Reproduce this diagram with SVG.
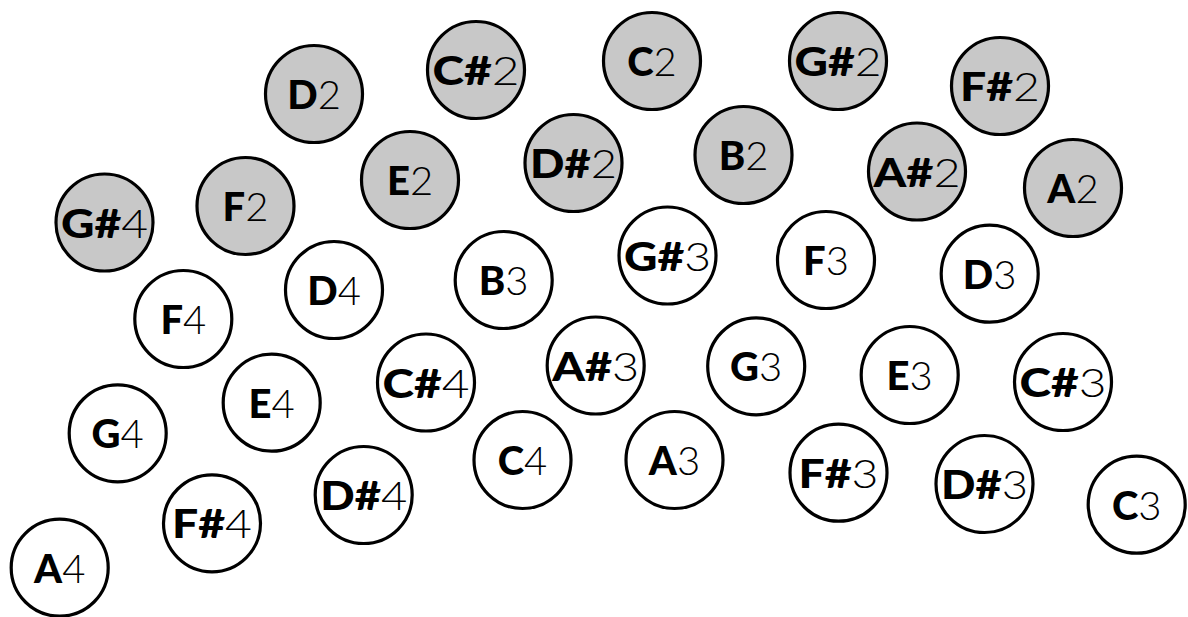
<svg xmlns="http://www.w3.org/2000/svg" width="1188" height="617" viewBox="0 0 1188 617">
<style>
.k circle{stroke:#000;stroke-width:3.2;fill:#fff}
.k.g circle{fill:#c8c8c8}
.k text{font-family:Lato,"Liberation Sans",sans-serif;font-size:40px;text-anchor:middle;fill:#000}
.n{font-weight:900}
.o{font-weight:300}
</style>
<rect width="1188" height="617" fill="#fff"/>
<g id="connectors"></g>
<g id="D2" class="k g"><circle cx="314" cy="94" r="48.5"/><text x="314" y="109"><tspan class="n">D</tspan><tspan class="o">2</tspan></text></g>
<g id="Cs2" class="k g"><circle cx="476" cy="70" r="48.5"/><text x="476" y="85" textLength="87" lengthAdjust="spacingAndGlyphs"><tspan class="n">C#</tspan><tspan class="o">2</tspan></text></g>
<g id="C2" class="k g"><circle cx="652" cy="61" r="48.5"/><text x="652" y="76"><tspan class="n">C</tspan><tspan class="o">2</tspan></text></g>
<g id="Gs2" class="k g"><circle cx="838" cy="61" r="48.5"/><text x="838" y="76" textLength="87" lengthAdjust="spacingAndGlyphs"><tspan class="n">G#</tspan><tspan class="o">2</tspan></text></g>
<g id="Fs2" class="k g"><circle cx="1000" cy="86" r="48.5"/><text x="1000" y="101" textLength="80" lengthAdjust="spacingAndGlyphs"><tspan class="n">F#</tspan><tspan class="o">2</tspan></text></g>
<g id="Gs4" class="k g"><circle cx="104.5" cy="222.5" r="48.5"/><text x="104.5" y="237.5" textLength="87" lengthAdjust="spacingAndGlyphs"><tspan class="n">G#</tspan><tspan class="o">4</tspan></text></g>
<g id="F2" class="k g"><circle cx="245.5" cy="206" r="48.5"/><text x="245.5" y="221"><tspan class="n">F</tspan><tspan class="o">2</tspan></text></g>
<g id="E2" class="k g"><circle cx="410" cy="180" r="48.5"/><text x="410" y="195"><tspan class="n">E</tspan><tspan class="o">2</tspan></text></g>
<g id="Ds2" class="k g"><circle cx="573.5" cy="163" r="48.5"/><text x="573.5" y="178" textLength="87" lengthAdjust="spacingAndGlyphs"><tspan class="n">D#</tspan><tspan class="o">2</tspan></text></g>
<g id="B2" class="k g"><circle cx="743.5" cy="155" r="48.5"/><text x="743.5" y="170"><tspan class="n">B</tspan><tspan class="o">2</tspan></text></g>
<g id="As2" class="k g"><circle cx="917" cy="171.5" r="48.5"/><text x="917" y="186.5" textLength="87" lengthAdjust="spacingAndGlyphs"><tspan class="n">A#</tspan><tspan class="o">2</tspan></text></g>
<g id="A2" class="k g"><circle cx="1073" cy="188" r="48.5"/><text x="1073" y="203"><tspan class="n">A</tspan><tspan class="o">2</tspan></text></g>
<g id="F4" class="k"><circle cx="183.3" cy="319" r="48.5"/><text x="183.3" y="334"><tspan class="n">F</tspan><tspan class="o">4</tspan></text></g>
<g id="D4" class="k"><circle cx="334" cy="290" r="48.5"/><text x="334" y="305"><tspan class="n">D</tspan><tspan class="o">4</tspan></text></g>
<g id="B3" class="k"><circle cx="503.7" cy="280" r="48.5"/><text x="503.7" y="295"><tspan class="n">B</tspan><tspan class="o">3</tspan></text></g>
<g id="Gs3" class="k"><circle cx="667.5" cy="255.5" r="48.5"/><text x="667.5" y="270.5" textLength="87" lengthAdjust="spacingAndGlyphs"><tspan class="n">G#</tspan><tspan class="o">3</tspan></text></g>
<g id="F3" class="k"><circle cx="826" cy="260" r="48.5"/><text x="826" y="275"><tspan class="n">F</tspan><tspan class="o">3</tspan></text></g>
<g id="D3" class="k"><circle cx="989.7" cy="273.7" r="48.5"/><text x="989.7" y="288.7"><tspan class="n">D</tspan><tspan class="o">3</tspan></text></g>
<g id="Cs4" class="k"><circle cx="426" cy="382.5" r="48.5"/><text x="426" y="397.5" textLength="87" lengthAdjust="spacingAndGlyphs"><tspan class="n">C#</tspan><tspan class="o">4</tspan></text></g>
<g id="As3" class="k"><circle cx="595.7" cy="365.5" r="48.5"/><text x="595.7" y="380.5" textLength="87" lengthAdjust="spacingAndGlyphs"><tspan class="n">A#</tspan><tspan class="o">3</tspan></text></g>
<g id="G3" class="k"><circle cx="756.2" cy="366.3" r="48.5"/><text x="756.2" y="381.3"><tspan class="n">G</tspan><tspan class="o">3</tspan></text></g>
<g id="E3" class="k"><circle cx="909.7" cy="375" r="48.5"/><text x="909.7" y="390"><tspan class="n">E</tspan><tspan class="o">3</tspan></text></g>
<g id="Cs3" class="k"><circle cx="1063" cy="382" r="48.5"/><text x="1063" y="397" textLength="87" lengthAdjust="spacingAndGlyphs"><tspan class="n">C#</tspan><tspan class="o">3</tspan></text></g>
<g id="G4" class="k"><circle cx="117.7" cy="433.3" r="48.5"/><text x="117.7" y="448.3"><tspan class="n">G</tspan><tspan class="o">4</tspan></text></g>
<g id="E4" class="k"><circle cx="271.7" cy="402.7" r="48.5"/><text x="271.7" y="417.7"><tspan class="n">E</tspan><tspan class="o">4</tspan></text></g>
<g id="C4" class="k"><circle cx="522.5" cy="460" r="48.5"/><text x="522.5" y="475"><tspan class="n">C</tspan><tspan class="o">4</tspan></text></g>
<g id="A3" class="k"><circle cx="674.5" cy="460" r="48.5"/><text x="674.5" y="475"><tspan class="n">A</tspan><tspan class="o">3</tspan></text></g>
<g id="Fs3" class="k"><circle cx="838.5" cy="472.7" r="48.5"/><text x="838.5" y="487.7" textLength="80" lengthAdjust="spacingAndGlyphs"><tspan class="n">F#</tspan><tspan class="o">3</tspan></text></g>
<g id="Ds3" class="k"><circle cx="984.5" cy="484" r="48.5"/><text x="984.5" y="499" textLength="87" lengthAdjust="spacingAndGlyphs"><tspan class="n">D#</tspan><tspan class="o">3</tspan></text></g>
<g id="C3" class="k"><circle cx="1136.7" cy="504.7" r="48.5"/><text x="1136.7" y="519.7"><tspan class="n">C</tspan><tspan class="o">3</tspan></text></g>
<g id="Fs4" class="k"><circle cx="212" cy="523.3" r="48.5"/><text x="212" y="538.3" textLength="80" lengthAdjust="spacingAndGlyphs"><tspan class="n">F#</tspan><tspan class="o">4</tspan></text></g>
<g id="Ds4" class="k"><circle cx="363.7" cy="495" r="48.5"/><text x="363.7" y="510" textLength="87" lengthAdjust="spacingAndGlyphs"><tspan class="n">D#</tspan><tspan class="o">4</tspan></text></g>
<g id="A4" class="k"><circle cx="59.7" cy="567.7" r="48.5"/><text x="59.7" y="582.7"><tspan class="n">A</tspan><tspan class="o">4</tspan></text></g>
</svg>
